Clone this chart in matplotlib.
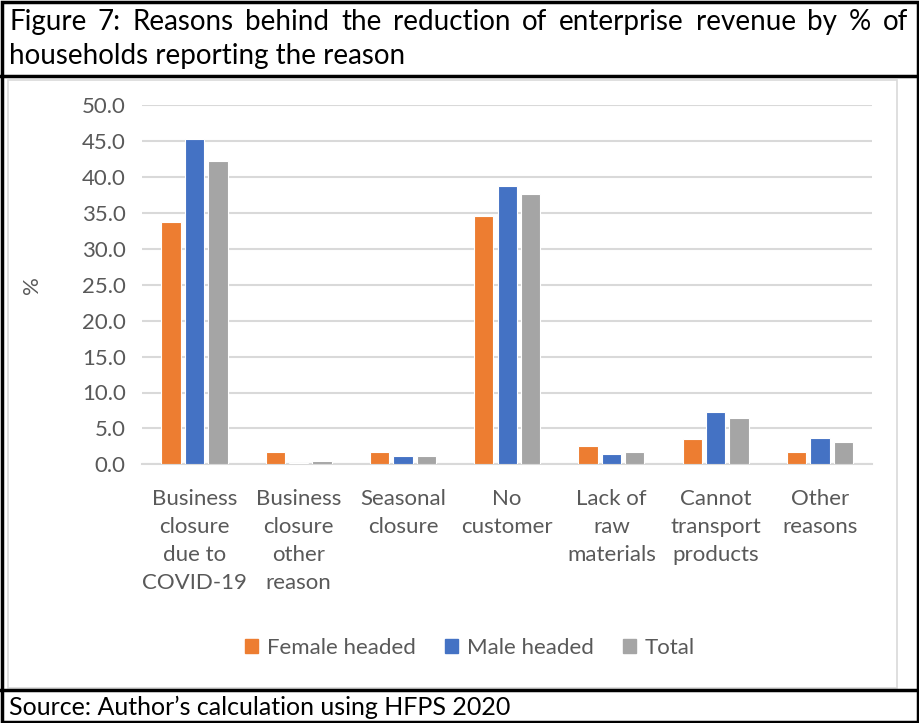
import numpy as np
import matplotlib.pyplot as plt
from matplotlib import font_manager
from matplotlib.patches import Rectangle
from matplotlib.lines import Line2D

categories = ["Business\nclosure\ndue to\nCOVID-19", "Business\nclosure\nother\nreason",
              "Seasonal\nclosure", "No\ncustomer", "Lack of\nraw\nmaterials",
              "Cannot\ntransport\nproducts", "Other\nreasons"]
female = [33.7, 1.7, 1.7, 34.6, 2.6, 3.5, 1.7]
male = [45.3, 0.2, 1.1, 38.8, 1.4, 7.3, 3.7]
total = [42.3, 0.5, 1.1, 37.6, 1.7, 6.5, 3.1]
series_names = ["Female headed", "Male headed", "Total"]
colors = ["#ED7D31", "#4472C4", "#A5A5A5"]
yticks = np.arange(0, 55, 5)

title_line1 = "Figure 7: Reasons behind the reduction of enterprise revenue by % of"
title_line2 = "households reporting the reason"
source = "Source: Author\u2019s calculation using HFPS 2020"

try:
    font_manager.findfont('Liberation Sans Narrow', fallback_to_default=False)
    narrow = 'Liberation Sans Narrow'
except Exception:
    narrow = 'Lato'

plt.rcParams['font.family'] = 'Lato'
W, H = 919, 723
fig = plt.figure(figsize=(W / 100, H / 100), dpi=100)


def fx(px):
    return px / W


def fy(py):
    return 1 - py / H


# frames
fig.add_artist(Rectangle((fx(1.5), fy(721.5)), fx(916), (720) / H, transform=fig.transFigure,
                         fill=False, ec='black', lw=2.5))
fig.add_artist(Line2D([0, 1], [fy(76), fy(76)], transform=fig.transFigure, color='black', lw=2.5))
fig.add_artist(Line2D([0, 1], [fy(690), fy(690)], transform=fig.transFigure, color='black', lw=2.5))
fig.add_artist(Rectangle((fx(8), fy(688)), fx(889), 608 / H, transform=fig.transFigure,
                         fill=False, ec='#D9D9D9', lw=1.2))

# title, first line justified
renderer = fig.canvas.get_renderer()
words = title_line1.split(" ")
tfs = 20
objs = [fig.text(0, fy(22), w, fontsize=tfs, va='center', ha='left', family=narrow)
        for w in words]
widths = [o.get_window_extent(renderer).width for o in objs]
x0, x1 = 9, 908
gap = (x1 - x0 - sum(widths)) / (len(words) - 1)
x = x0
for o, w in zip(objs, widths):
    o.set_x(fx(x))
    x += w + gap
fig.text(fx(x0), fy(56), title_line2, fontsize=tfs, va='center', ha='left', family=narrow)

fig.text(fx(9), fy(707), source, fontsize=18, va='center', ha='left', family=narrow)

# chart
ax = fig.add_axes([fx(142.3), fy(464.3), fx(872 - 142.3), (464.3 - 105.3) / H])
xs = np.arange(len(categories))
bw = 0.185
step = 0.225
for i, (vals, c, name) in enumerate(zip([female, male, total], colors, series_names)):
    ax.bar(xs + (i - 1) * step, vals, width=bw, color=c, edgecolor='white', lw=0.8,
           label=name, zorder=3)

ax.set_xlim(-0.5, len(categories) - 0.5)
ax.set_ylim(0, 50)
ax.set_yticks(yticks)
ax.set_yticklabels([f"{v:.1f}" for v in yticks])
ax.set_xticks(xs)
ax.set_xticklabels(categories, linespacing=1.5)
ax.tick_params(axis='both', length=0, colors='#595959', labelsize=16)
ax.tick_params(axis='x', pad=18)
ax.tick_params(axis='y', pad=12)
ax.grid(axis='y', color='#D9D9D9', lw=1.5, zorder=0)
for s in ['top', 'right', 'left']:
    ax.spines[s].set_visible(False)
ax.spines['bottom'].set_color('#D9D9D9')
ax.spines['bottom'].set_linewidth(1.5)
ax.set_ylabel('%', fontsize=16, color='#595959')
ax.yaxis.set_label_coords(fx(42 - 142.3) / fx(872 - 142.3), 0.5)

handles = [Rectangle((0, 0), 1, 1, color=c) for c in colors]
fig.legend(handles, series_names, loc='center', bbox_to_anchor=(fx(470), fy(648)), ncol=3,
           frameon=False, fontsize=16, handlelength=0.6, handleheight=0.6, handletextpad=0.4,
           columnspacing=1.3, labelcolor='#595959')

fig.savefig('out.png', dpi=100)
